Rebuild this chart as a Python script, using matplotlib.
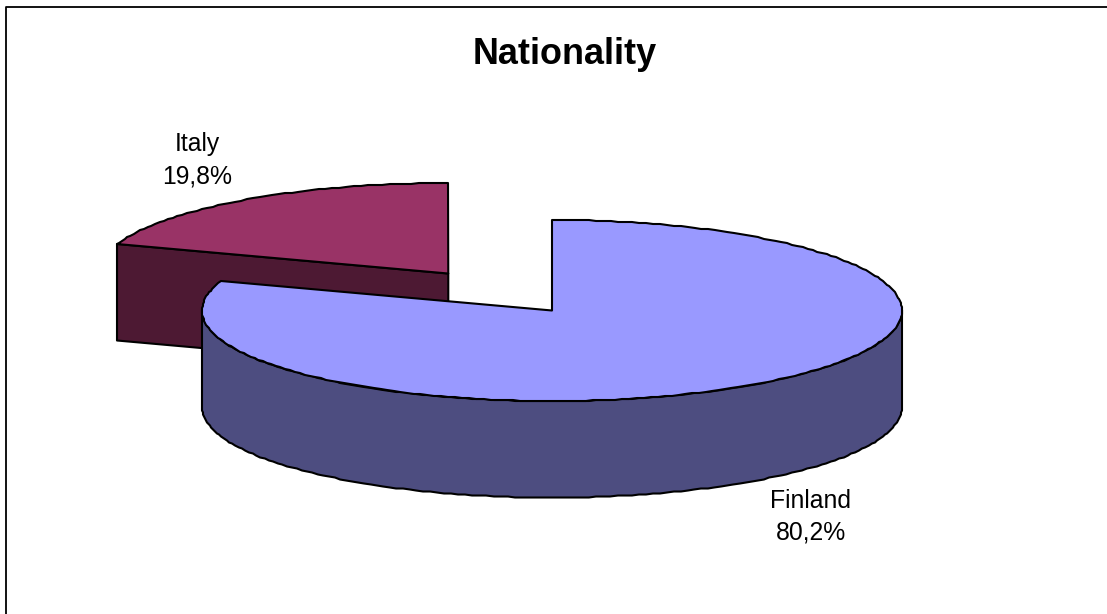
import matplotlib
matplotlib.use('Agg')
import matplotlib.pyplot as plt
import numpy as np
from matplotlib.patches import Polygon

plt.rcParams['font.family'] = ['Liberation Sans', 'DejaVu Sans']

# Datos
categories = ['Finland', 'Italy']
shares = [80.2, 19.8]
labels = ['80,2%', '19,8%']
title = 'Nationality'

top_colors = ['#9999FF', '#993366']
side_colors = ['#4D4D80', '#4D1933']

CX, CY = 552, 310.5  # centro de la elipse
RX, RY = 350, 90.5
DEPTH = 96.5
EXPLODE_X, EXPLODE_Y = 178, 45.5  # separacion de la porcion Italy


def ellipse_points(cx, cy, t0, t1, step=1.2):
    # t en grados, sentido horario desde las 12
    n = max(int(abs(t1 - t0) / step), 1)
    t = np.radians(np.linspace(t0, t1, n + 1))
    x = cx + RX * np.sin(t)
    y = cy - RY * np.cos(t)
    # redondeo a pixel para el borde escalonado
    return np.column_stack((np.round(x), np.round(y)))


def add_poly(ax, pts, color, z):
    ax.add_patch(Polygon(pts, closed=True, facecolor=color, edgecolor='black',
                         linewidth=1.5, joinstyle='round', zorder=z))


fig = plt.figure(figsize=(11.07, 6.14), dpi=100)
ax = fig.add_axes([0, 0, 1, 1])
ax.set_xlim(0, 1107)
ax.set_ylim(614, 0)
ax.axis('off')

# Marco: solo izquierda y arriba quedan dentro de la imagen
ax.plot([6, 6, 1107], [614, 7, 7], color='black', linewidth=1.3, zorder=1)

end_finland = shares[0] / sum(shares) * 360

# Porcion Italy, desplazada segun su angulo medio
mid = np.radians((end_finland + 360) / 2)
ix = CX + EXPLODE_X * np.sin(mid)
iy = CY - EXPLODE_Y * np.cos(mid)
arc = ellipse_points(ix, iy, end_finland, 360)
center = np.array([ix, iy])
start = arc[0]
cut = np.array([start, center, center + [0, DEPTH], start + [0, DEPTH]])
add_poly(ax, cut, side_colors[1], 2)
add_poly(ax, np.vstack((arc, [center])), top_colors[1], 3)

# Porcion Finland: pared frontal y cara superior
front = ellipse_points(CX, CY, 90, 270)
wall = np.vstack((front, front[::-1] + [0, DEPTH]))
add_poly(ax, wall, side_colors[0], 4)
arc = ellipse_points(CX, CY, 0, end_finland)
add_poly(ax, np.vstack((arc, [[CX, CY]])), top_colors[0], 5)

# Textos
ax.text(564.5, 54, title, fontsize=25.9, fontweight='bold', ha='center', va='center', zorder=6)
ax.text(811, 500.5, categories[0], fontsize=17.8, ha='center', va='center', zorder=6)
ax.text(811, 532.5, labels[0], fontsize=17.8, ha='center', va='center', zorder=6)
ax.text(197, 144.5, categories[1], fontsize=17.8, ha='center', va='center', zorder=6)
ax.text(197, 176.5, labels[1], fontsize=17.8, ha='center', va='center', zorder=6)

fig.savefig('out.png', dpi=100)
